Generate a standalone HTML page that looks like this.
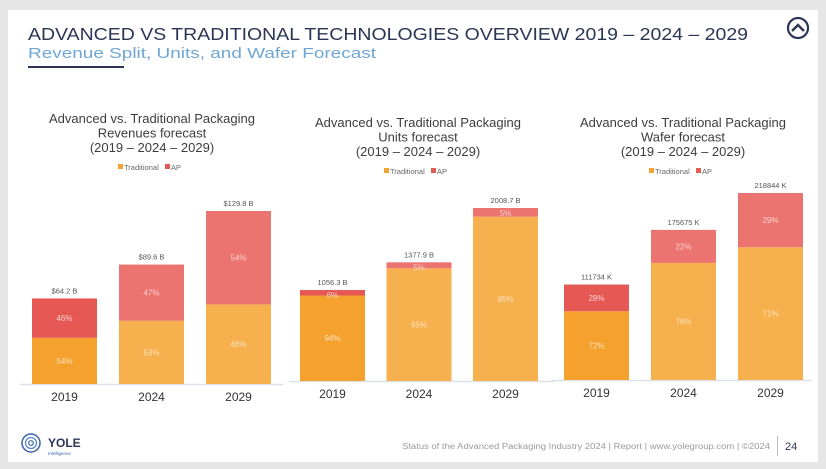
<!DOCTYPE html>
<html><head><meta charset="utf-8">
<style>
html,body{margin:0;padding:0;width:826px;height:469px;background:#e6e6e6;overflow:hidden;font-family:"Liberation Sans",sans-serif;}
svg{position:absolute;left:0;top:0;}
</style></head>
<body>
<svg id="s" width="826" height="469" xmlns="http://www.w3.org/2000/svg">
<rect x="8" y="10" width="810" height="452" fill="#ffffff"/>
<text x="28" y="40" font-size="17.5" fill="#2b3656" textLength="720" lengthAdjust="spacingAndGlyphs">ADVANCED VS TRADITIONAL TECHNOLOGIES OVERVIEW 2019 – 2024 – 2029</text>
<text x="28" y="58" font-size="15" fill="#6fa6d6" textLength="348" lengthAdjust="spacingAndGlyphs">Revenue Split, Units, and Wafer Forecast</text>
<rect x="28" y="66" width="96" height="2" fill="#2b3656"/>
<g>
<circle cx="798" cy="28" r="10" fill="none" stroke="#2b3656" stroke-width="2.2"/>
<path d="M792 31 L798 25 L804 31" fill="none" stroke="#2b3656" stroke-width="2.4"/>
</g>
<g>
<circle cx="31" cy="443" r="9" fill="none" stroke="#3a62a8" stroke-width="1.5"/>
<circle cx="31" cy="443" r="5.5" fill="none" stroke="#5b8ad0" stroke-width="1.3"/>
<circle cx="31" cy="443" r="2.3" fill="none" stroke="#3a62a8" stroke-width="1.2"/>
<text x="48" y="447" font-size="12" font-weight="bold" fill="#2b3656">YOLE</text>
<text x="48" y="455" font-size="4.5" fill="#3a62a8">Intelligence</text>
</g>
<text x="770" y="449" font-size="8" fill="#9a9a9a" text-anchor="end" textLength="368" lengthAdjust="spacingAndGlyphs">Status of the Advanced Packaging Industry 2024 | Report | www.yolegroup.com | ©2024</text>
<rect x="777" y="436" width="1" height="20" fill="#bbbbbb"/>
<text x="785" y="450" font-size="11" fill="#2b3656">24</text>
</svg>
<script>
const years = ["2019","2024","2029"];
const revTotals = [64.2, 89.6, 129.8];
const revAP = [46, 47, 54];
const revTrad = [54, 53, 46];
const revLabels = ["$64.2 B","$89.6 B","$129.8 B"];
const unitTotals = [1056.3, 1377.9, 2008.7];
const unitAP = [6, 5, 5];
const unitTrad = [94, 95, 95];
const unitLabels = ["1056.3 B","1377.9 B","2008.7 B"];
const waferTotals = [111734, 175675, 218844];
const waferAP = [28, 22, 29];
const waferTrad = [72, 78, 71];
const waferLabels = ["111734 K","175675 K","218844 K"];

const NS="http://www.w3.org/2000/svg";
const svg=document.getElementById('s');
function mk(tag,attrs,parent){const e=document.createElementNS(NS,tag);for(const k in attrs)e.setAttribute(k,attrs[k]);(parent||svg).appendChild(e);return e;}

function chart(cfg,totals,ap,trad,labels){
  const g=mk('g',{});
  
  
  const maxV=Math.max(...totals);
  const y=v=>cfg.base-v/maxV*cfg.maxH;
  const xs=i=>cfg.x0+i*cfg.step;
  cfg.title.forEach((t,i)=>{
    const tt=mk('text',{x:cfg.cx,y:cfg.ty+i*14.5,'font-size':13,fill:'#3d3d3d','text-anchor':'middle'},g);
    tt.textContent=t;
    
    
  });
  const lg=mk('g',{},g);
  
  
  mk('rect',{x:cfg.cx-34,y:cfg.ly-6,width:5,height:5,fill:'#f4a330'},lg);
  const l1=mk('text',{x:cfg.cx-28,y:cfg.ly,'font-size':7.5,fill:'#666'},lg);l1.textContent='Traditional';
  mk('rect',{x:cfg.cx+13,y:cfg.ly-6,width:5,height:5,fill:'#e45a55'},lg);
  const l2=mk('text',{x:cfg.cx+19,y:cfg.ly,'font-size':7.5,fill:'#666'},lg);l2.textContent='AP';
  const ax=mk('line',{x1:cfg.ax1,x2:cfg.ax2,y1:cfg.base+0.5,y2:cfg.base+0.5,stroke:'#dde2ea','stroke-width':1.5},g);
  
  
  totals.forEach((t,i)=>{
    const x=xs(i), top=y(t), split=y(t*trad[i]/100);
    const solid=i===0;
    const r1=mk('rect',{x:x,y:split,width:cfg.bw,height:cfg.base-split,fill:solid?'#f4a12d':'#f6b04d'},g);
    
    
    const r2=mk('rect',{x:x,y:top,width:cfg.bw,height:split-top,fill:solid?'#e65854':'#ec7470'},g);
    
    
    const cx=x+cfg.bw/2;
    const p1=mk('text',{x:cx,y:(split+cfg.base)/2+3,'font-size':8,fill:'#fde3c0','text-anchor':'middle'},g);
    p1.textContent=trad[i]+'%';
    
    
    const p2=mk('text',{x:cx,y:Math.max((top+split)/2+3,top+8),'font-size':8,fill:'#fbd3cf','text-anchor':'middle'},g);
    p2.textContent=ap[i]+'%';
    
    
    const tl=mk('text',{x:cx,y:top-5,'font-size':7.5,fill:'#555','text-anchor':'middle'},g);
    tl.textContent=labels[i];
    
    
    const yl=mk('text',{x:cx,y:cfg.base+17,'font-size':12,fill:'#333','text-anchor':'middle'},g);
    yl.textContent=years[i];
    
    
  });
}
chart({name:'revenues-chart',cx:152,ty:123,ly:170,base:384,maxH:173,x0:32,step:87,bw:65,ax1:20,ax2:283,
  title:['Advanced vs. Traditional Packaging','Revenues forecast','(2019 – 2024 – 2029)']},revTotals,revAP,revTrad,revLabels);
chart({name:'units-chart',cx:418,ty:127,ly:174,base:381,maxH:173,x0:300,step:86.5,bw:65,ax1:289,ax2:555,
  title:['Advanced vs. Traditional Packaging','Units forecast','(2019 – 2024 – 2029)']},unitTotals,unitAP,unitTrad,unitLabels);
chart({name:'wafer-chart',cx:683,ty:127,ly:174,base:380,maxH:187,x0:564,step:87,bw:65,ax1:551,ax2:812,
  title:['Advanced vs. Traditional Packaging','Wafer forecast','(2019 – 2024 – 2029)']},waferTotals,waferAP,waferTrad,waferLabels);
</script>
</body></html>
